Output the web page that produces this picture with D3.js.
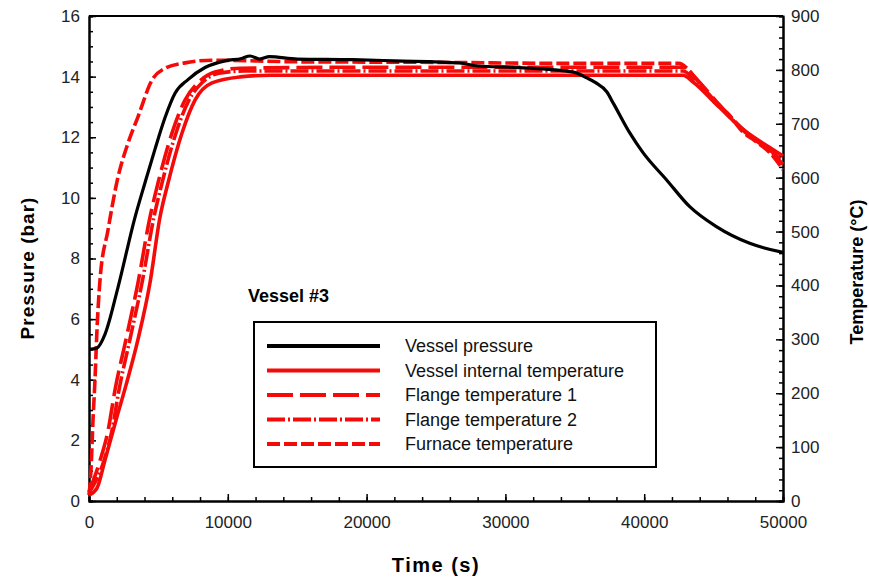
<!DOCTYPE html>
<html>
<head>
<meta charset="utf-8">
<script src="https://cdn.jsdelivr.net/npm/d3@7"></script>
<style>
	body { margin: 0; background: #fff; }
	text { font-family: Arial, "Liberation Sans", sans-serif; }
</style>
</head>
<body>
<svg class="chart" width="869" height="580"></svg>
<script>

// time (s), value pairs
var vesselPressure = [[0,5.0],[576,5.05],[1150,5.5],[2090,7.05],[3310,9.35],[4035,10.5],[4750,11.6],[5480,12.65],[6200,13.45],[7130,13.9],[8360,14.3],[9800,14.52],[11000,14.6],[11600,14.68],[12300,14.58],[13000,14.66],[15000,14.58],[19000,14.56],[22000,14.52],[26700,14.45],[28000,14.35],[31000,14.3],[34900,14.15],[35900,13.95],[36500,13.8],[37300,13.5],[37800,13.1],[38950,12.15],[39900,11.5],[41600,10.6],[43300,9.7],[45200,9.05],[47600,8.5],[50000,8.2]];

var internalTemp = [[0,11],[576,24],[1153,76],[1945,150],[2666,215],[3530,300],[4395,405],[5116,527],[5692,590],[6701,683],[7637,744],[8862,776],[10880,787],[13040,790],[25000,790],[35000,790],[42800,790],[43500,778],[45250,735],[47100,690],[49100,655],[50000,640]];

var flangeTemp1 = [[0,17],[793,75],[1369,130],[1873,206],[2666,300],[3530,405],[4395,527],[4971,590],[5980,683],[6917,744],[7853,776],[9078,796],[10880,803],[20000,805],[35000,805],[42800,805],[43500,790],[45250,740],[47100,690],[49100,650],[50000,630]];

var flangeTemp2 = [[0,15],[1080,75],[1650,130],[2160,206],[2950,300],[3820,405],[4680,527],[5260,590],[6270,683],[7200,744],[8140,776],[9360,794],[11200,798],[25000,798],[42800,798],[43500,785],[45250,738],[47100,688],[49100,648],[50000,625]];

var furnaceTemp = [[0,11],[144,58],[288,150],[432,225],[576,318],[793,410],[1370,503],[2090,601],[2810,664],[3530,713],[4540,781],[5480,803],[6920,813],[8860,818],[15000,815],[25000,814],[35000,812],[42500,812],[43200,800],[44000,775],[45250,735],[46000,720],[47100,685],[48000,668],[49100,645],[50000,615]];

var timeTicks = [0, 10000, 20000, 30000, 40000, 50000];
var pressureTicks = [0, 2, 4, 6, 8, 10, 12, 14, 16];
var tempTicks = [0, 100, 200, 300, 400, 500, 600, 700, 800, 900];

var legendLabels = ['Vessel pressure', 'Vessel internal temperature', 'Flange temperature 1', 'Flange temperature 2', 'Furnace temperature'];

var svg = d3.select('.chart');
var plot_left = 89, plot_right = 783, plot_top = 16, plot_bottom = 501;

var x = d3.scaleLinear().domain([0, 50000]).range([plot_left, plot_right]);
var yP = d3.scaleLinear().domain([0, 16]).range([plot_bottom, plot_top]);
var yT = d3.scaleLinear().domain([0, 900]).range([plot_bottom, plot_top]);

// series styles
var series = [
	{data: internalTemp, y: yT, color: '#f50a0a', width: 3.6, dash: null},
	{data: flangeTemp2, y: yT, color: '#f50a0a', width: 3.6, dash: '18,3,2,3'},
	{data: flangeTemp1, y: yT, color: '#f50a0a', width: 3.6, dash: '26,7'},
	{data: furnaceTemp, y: yT, color: '#f50a0a', width: 3.6, dash: '13,4'},
	{data: vesselPressure, y: yP, color: '#000', width: 3.2, dash: null}
];
var legendStyles = [series[4], series[0], series[2], series[1], series[3]];

// top border
svg.append('line')
	.attr('x1', plot_left).attr('x2', plot_right)
	.attr('y1', plot_top).attr('y2', plot_top)
	.attr('stroke', '#000').attr('stroke-width', 2);

function styleAxis(g) {
	g.select('.domain').attr('stroke', '#000').attr('stroke-width', 2);
	g.selectAll('.tick line').attr('stroke', '#000').attr('stroke-width', 1.5);
	g.selectAll('text').attr('font-size', 17).attr('fill', '#222');
}

// minor ticks
svg.append('g').attr('transform', 'translate(0,' + plot_bottom + ')')
	.call(d3.axisBottom(x).tickValues(d3.range(0, 50001, 2000)).tickSize(-4).tickFormat(''))
	.call(styleAxis);
svg.append('g').attr('transform', 'translate(' + plot_left + ',0)')
	.call(d3.axisLeft(yP).tickValues(d3.range(0, 16.01, 0.5)).tickSize(-4).tickFormat(''))
	.call(styleAxis);
svg.append('g').attr('transform', 'translate(' + plot_right + ',0)')
	.call(d3.axisRight(yT).tickValues(d3.range(0, 901, 20)).tickSize(-4).tickFormat(''))
	.call(styleAxis);

// major ticks + labels
svg.append('g').attr('transform', 'translate(0,' + plot_bottom + ')')
	.call(d3.axisBottom(x).tickValues(timeTicks).tickSize(-7).tickSizeOuter(0).tickPadding(15).tickFormat(d3.format('d')))
	.call(styleAxis);
svg.append('g').attr('transform', 'translate(' + plot_left + ',0)')
	.call(d3.axisLeft(yP).tickValues(pressureTicks).tickSize(-7).tickSizeOuter(0).tickPadding(9))
	.call(styleAxis);
svg.append('g').attr('transform', 'translate(' + plot_right + ',0)')
	.call(d3.axisRight(yT).tickValues(tempTicks).tickSize(-7).tickSizeOuter(0).tickPadding(8))
	.call(styleAxis);

// curves
series.forEach(function(s) {
	var line = d3.line()
		.x(function(d) { return x(d[0]); })
		.y(function(d) { return s.y(d[1]); })
		.curve(d3.curveMonotoneX);
	svg.append('path')
		.datum(s.data)
		.attr('d', line)
		.attr('fill', 'none')
		.attr('stroke', s.color)
		.attr('stroke-width', s.width)
		.attr('stroke-dasharray', s.dash)
		.attr('stroke-linejoin', 'round');
});

// axis titles
svg.append('text')
	.attr('transform', 'translate(34,268) rotate(-90)')
	.attr('text-anchor', 'middle')
	.attr('font-size', 19).attr('font-weight', 'bold')
	.attr('letter-spacing', 1)
	.text('Pressure (bar)');
svg.append('text')
	.attr('transform', 'translate(863,272) rotate(-90)')
	.attr('text-anchor', 'middle')
	.attr('font-size', 18).attr('font-weight', 'bold')
	.text('Temperature (°C)');
svg.append('text')
	.attr('x', 436).attr('y', 572)
	.attr('text-anchor', 'middle')
	.attr('font-size', 20).attr('font-weight', 'bold')
	.attr('letter-spacing', 1.5)
	.text('Time (s)');
svg.append('text')
	.attr('x', 248).attr('y', 302)
	.attr('font-size', 18).attr('font-weight', 'bold')
	.text('Vessel #3');

// LEGEND
svg.append('rect')
	.attr('x', 254).attr('y', 322)
	.attr('width', 402).attr('height', 145)
	.attr('fill', '#fff')
	.attr('stroke', '#000').attr('stroke-width', 2);

var rows = svg.selectAll('.legend-row')
	.data(legendLabels)
	.enter().append('g')
	.attr('class', 'legend-row')
	.attr('transform', function(d, i) { return 'translate(0,' + (346 + i * 24.5) + ')'; });

rows.append('line')
	.attr('x1', 267).attr('x2', 380)
	.attr('stroke', function(d, i) { return legendStyles[i].color; })
	.attr('stroke-width', 4)
	.attr('stroke-dasharray', function(d, i) { return legendStyles[i].dash; });

rows.append('text')
	.attr('x', 405).attr('y', 6)
	.attr('font-size', 18)
	.attr('fill', '#111')
	.text(function(d) { return d; });

</script>
</body>
</html>
